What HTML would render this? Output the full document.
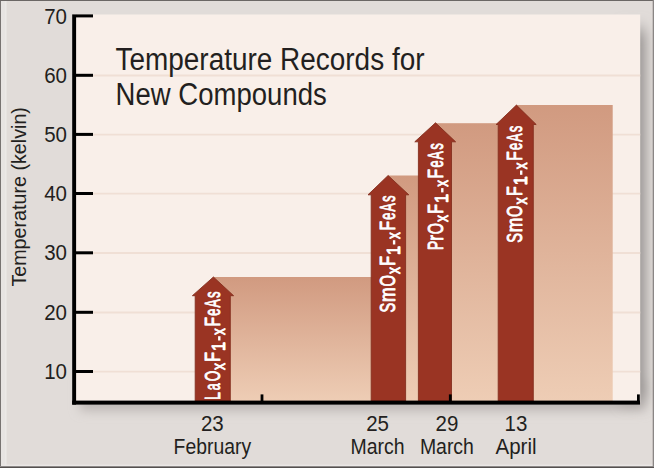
<!DOCTYPE html>
<html><head><meta charset="utf-8">
<style>
html,body{margin:0;padding:0;background:#e1dcd9;}
svg{display:block;}
text{font-family:"Liberation Sans",sans-serif;}
</style></head><body>
<svg width="654" height="468" viewBox="0 0 654 468">
<defs>
<linearGradient id="ag" x1="0" y1="0" x2="0" y2="1">
<stop offset="0" stop-color="#d19a80"/>
<stop offset="1" stop-color="#eecdb5"/>
</linearGradient>
<filter id="blur" x="-50%" y="-10%" width="200%" height="120%"><feGaussianBlur stdDeviation="5.4 8"/></filter>
<filter id="blur2" x="-10%" y="-100%" width="120%" height="300%"><feGaussianBlur stdDeviation="5.5"/></filter>
</defs>
<rect x="0" y="0" width="654" height="468" fill="#e1dcd9"/>
<rect x="80" y="380" width="565" height="30.5" fill="#bbb6b3" filter="url(#blur2)"/>
<rect x="620" y="29" width="26.3" height="372" fill="#9e9a98" filter="url(#blur)"/>
<rect x="74" y="14.5" width="566.2" height="388" fill="#f9efe9"/>

<g stroke="#f0dfd5" stroke-width="1.8">
<line x1="76" x2="640.2" y1="75.5" y2="75.5"/>
<line x1="76" x2="640.2" y1="134.6" y2="134.6"/>
<line x1="76" x2="640.2" y1="193.7" y2="193.7"/>
<line x1="76" x2="640.2" y1="253.0" y2="253.0"/>
<line x1="76" x2="640.2" y1="312.5" y2="312.5"/>
<line x1="76" x2="640.2" y1="371.7" y2="371.7"/>
</g>
<g fill="url(#ag)">
<rect x="213.3" y="277.0" width="175.2" height="124.0"/>
<rect x="388" y="175.5" width="48.0" height="225.5"/>
<rect x="435.5" y="123.2" width="81.0" height="277.8"/>
<rect x="516" y="105" width="96.7" height="296.0"/>
</g>
<g fill="#9a3423" stroke="#85301f" stroke-width="0.9" stroke-linejoin="miter">
<path d="M213.4 277L233.6 295.7H230.3V401H195.2V295.7H192.4Z"/>
<path d="M388.1 175.5L408.8 194.8H405.6V401H371.2V194.8H368Z"/>
<path d="M435.5 122.8L455.6 141.8H451.5V401H418.4V141.8H414.8Z"/>
<path d="M516.4 105.1L536.2 124.5H533.3V401H498.2V124.5H496.1Z"/>
</g>
<g fill="#000">
<rect x="72.2" y="14.4" width="3.9" height="390.2"/>
<rect x="72.2" y="400.6" width="567.8" height="4"/>
<rect x="76" y="14.4" width="17" height="3"/>
<rect x="76" y="73.8" width="17" height="3"/>
<rect x="76" y="132.9" width="17" height="3"/>
<rect x="76" y="192.0" width="17" height="3"/>
<rect x="76" y="251.3" width="17" height="3"/>
<rect x="76" y="310.8" width="17" height="3"/>
<rect x="76" y="370.0" width="17" height="3"/>
<rect x="260.6" y="394.4" width="2.8" height="7"/>
<rect x="448.9" y="394.4" width="2.8" height="7"/>
<rect x="637.0" y="394.4" width="2.8" height="7"/>
</g>
<g font-size="21.5" fill="#231f20">
<text x="44.2" y="23.5" textLength="22.8" lengthAdjust="spacingAndGlyphs">70</text>
<text x="44.2" y="82.9" textLength="22.8" lengthAdjust="spacingAndGlyphs">60</text>
<text x="44.2" y="142.0" textLength="22.8" lengthAdjust="spacingAndGlyphs">50</text>
<text x="44.2" y="201.1" textLength="22.8" lengthAdjust="spacingAndGlyphs">40</text>
<text x="44.2" y="260.4" textLength="22.8" lengthAdjust="spacingAndGlyphs">30</text>
<text x="44.2" y="319.9" textLength="22.8" lengthAdjust="spacingAndGlyphs">20</text>
<text x="44.2" y="379.1" textLength="22.8" lengthAdjust="spacingAndGlyphs">10</text>
</g>
<g font-size="31" fill="#231f20">
<text x="115.5" y="69.6" textLength="309" lengthAdjust="spacingAndGlyphs">Temperature Records for</text>
<text x="115.6" y="105.2" textLength="211.2" lengthAdjust="spacingAndGlyphs">New Compounds</text>
</g>
<text transform="translate(25.8,286.6) rotate(-90)" font-size="20.4" fill="#231f20" textLength="179.5" lengthAdjust="spacingAndGlyphs">Temperature (kelvin)</text>

<g font-size="21.5" fill="#231f20">
<text x="200.9" y="431.1" textLength="22.8" lengthAdjust="spacingAndGlyphs">23</text>
<text x="173.6" y="454" textLength="77.5" lengthAdjust="spacingAndGlyphs">February</text>
<text x="366.2" y="431.1" textLength="22.8" lengthAdjust="spacingAndGlyphs">25</text>
<text x="350.6" y="454" textLength="54" lengthAdjust="spacingAndGlyphs">March</text>
<text x="435.5" y="431.1" textLength="22.8" lengthAdjust="spacingAndGlyphs">29</text>
<text x="419.9" y="454" textLength="54" lengthAdjust="spacingAndGlyphs">March</text>
<text x="504.6" y="431.1" textLength="22.8" lengthAdjust="spacingAndGlyphs">13</text>
<text x="495.5" y="454" textLength="41" lengthAdjust="spacingAndGlyphs">April</text>
</g>
<g transform="translate(220.1,399.3) rotate(-90)" font-weight="normal" fill="#fff" stroke="#fff" stroke-width="0.9" stroke-linejoin="round">
<text x="-0.70" y="0" font-size="21.3" textLength="8.00" lengthAdjust="spacingAndGlyphs">L</text>
<text x="8.95" y="0" font-size="21.3" textLength="6.91" lengthAdjust="spacingAndGlyphs">a</text>
<text x="17.94" y="0" font-size="21.3" textLength="10.56" lengthAdjust="spacingAndGlyphs">O</text>
<text x="29.21" y="4.6" font-size="17.6" textLength="6.98" lengthAdjust="spacingAndGlyphs">x</text>
<text x="37.48" y="0" font-size="21.3" textLength="9.72" lengthAdjust="spacingAndGlyphs">F</text>
<text x="48.23" y="4.6" font-size="17.6" textLength="9.08" lengthAdjust="spacingAndGlyphs">1</text>
<rect x="49.30" y="2.60" width="7.40" height="2.2" stroke="none"/>
<rect x="58.80" y="-2.0" width="4.30" height="2.4" stroke="none"/>
<text x="64.41" y="4.6" font-size="17.6" textLength="6.77" lengthAdjust="spacingAndGlyphs">x</text>
<text x="72.81" y="0" font-size="21.3" textLength="9.47" lengthAdjust="spacingAndGlyphs">F</text>
<text x="83.64" y="0" font-size="21.3" textLength="7.14" lengthAdjust="spacingAndGlyphs">e</text>
<text x="91.75" y="0" font-size="21.3" textLength="8.23" lengthAdjust="spacingAndGlyphs">A</text>
<text x="101.64" y="0" font-size="21.3" textLength="6.25" lengthAdjust="spacingAndGlyphs">s</text>
</g>
<g transform="translate(394.9,312.2) rotate(-90)" font-weight="normal" fill="#fff" stroke="#fff" stroke-width="0.9" stroke-linejoin="round">
<text x="-0.21" y="0" font-size="21.3" textLength="9.74" lengthAdjust="spacingAndGlyphs">S</text>
<text x="10.21" y="0" font-size="21.3" textLength="14.65" lengthAdjust="spacingAndGlyphs">m</text>
<text x="25.59" y="0" font-size="21.3" textLength="11.47" lengthAdjust="spacingAndGlyphs">O</text>
<text x="38.11" y="4.6" font-size="17.6" textLength="6.98" lengthAdjust="spacingAndGlyphs">x</text>
<text x="46.38" y="0" font-size="21.3" textLength="9.72" lengthAdjust="spacingAndGlyphs">F</text>
<text x="57.13" y="4.6" font-size="17.6" textLength="9.08" lengthAdjust="spacingAndGlyphs">1</text>
<rect x="58.20" y="2.60" width="7.40" height="2.2" stroke="none"/>
<rect x="67.70" y="-2.0" width="4.30" height="2.4" stroke="none"/>
<text x="73.31" y="4.6" font-size="17.6" textLength="6.77" lengthAdjust="spacingAndGlyphs">x</text>
<text x="81.71" y="0" font-size="21.3" textLength="9.47" lengthAdjust="spacingAndGlyphs">F</text>
<text x="92.54" y="0" font-size="21.3" textLength="7.14" lengthAdjust="spacingAndGlyphs">e</text>
<text x="100.65" y="0" font-size="21.3" textLength="8.23" lengthAdjust="spacingAndGlyphs">A</text>
<text x="110.54" y="0" font-size="21.3" textLength="6.25" lengthAdjust="spacingAndGlyphs">s</text>
</g>
<g transform="translate(443.1,249.4) rotate(-90)" font-weight="normal" fill="#fff" stroke="#fff" stroke-width="0.9" stroke-linejoin="round">
<text x="-0.66" y="0" font-size="21.3" textLength="9.23" lengthAdjust="spacingAndGlyphs">P</text>
<text x="8.73" y="0" font-size="21.3" textLength="5.75" lengthAdjust="spacingAndGlyphs">r</text>
<text x="15.20" y="0" font-size="21.3" textLength="11.24" lengthAdjust="spacingAndGlyphs">O</text>
<text x="27.41" y="4.6" font-size="17.6" textLength="6.98" lengthAdjust="spacingAndGlyphs">x</text>
<text x="35.68" y="0" font-size="21.3" textLength="9.72" lengthAdjust="spacingAndGlyphs">F</text>
<text x="46.43" y="4.6" font-size="17.6" textLength="9.08" lengthAdjust="spacingAndGlyphs">1</text>
<rect x="47.50" y="2.60" width="7.40" height="2.2" stroke="none"/>
<rect x="57.00" y="-2.0" width="4.30" height="2.4" stroke="none"/>
<text x="62.61" y="4.6" font-size="17.6" textLength="6.77" lengthAdjust="spacingAndGlyphs">x</text>
<text x="71.01" y="0" font-size="21.3" textLength="9.47" lengthAdjust="spacingAndGlyphs">F</text>
<text x="81.84" y="0" font-size="21.3" textLength="7.14" lengthAdjust="spacingAndGlyphs">e</text>
<text x="89.95" y="0" font-size="21.3" textLength="8.23" lengthAdjust="spacingAndGlyphs">A</text>
<text x="99.84" y="0" font-size="21.3" textLength="6.25" lengthAdjust="spacingAndGlyphs">s</text>
</g>
<g transform="translate(522.0,242.5) rotate(-90)" font-weight="normal" fill="#fff" stroke="#fff" stroke-width="0.9" stroke-linejoin="round">
<text x="-0.21" y="0" font-size="21.3" textLength="9.74" lengthAdjust="spacingAndGlyphs">S</text>
<text x="10.21" y="0" font-size="21.3" textLength="14.65" lengthAdjust="spacingAndGlyphs">m</text>
<text x="25.59" y="0" font-size="21.3" textLength="11.47" lengthAdjust="spacingAndGlyphs">O</text>
<text x="38.11" y="4.6" font-size="17.6" textLength="6.98" lengthAdjust="spacingAndGlyphs">x</text>
<text x="46.38" y="0" font-size="21.3" textLength="9.72" lengthAdjust="spacingAndGlyphs">F</text>
<text x="57.13" y="4.6" font-size="17.6" textLength="9.08" lengthAdjust="spacingAndGlyphs">1</text>
<rect x="58.20" y="2.60" width="7.40" height="2.2" stroke="none"/>
<rect x="67.70" y="-2.0" width="4.30" height="2.4" stroke="none"/>
<text x="73.31" y="4.6" font-size="17.6" textLength="6.77" lengthAdjust="spacingAndGlyphs">x</text>
<text x="81.71" y="0" font-size="21.3" textLength="9.47" lengthAdjust="spacingAndGlyphs">F</text>
<text x="92.54" y="0" font-size="21.3" textLength="7.14" lengthAdjust="spacingAndGlyphs">e</text>
<text x="100.65" y="0" font-size="21.3" textLength="8.23" lengthAdjust="spacingAndGlyphs">A</text>
<text x="110.54" y="0" font-size="21.3" textLength="6.25" lengthAdjust="spacingAndGlyphs">s</text>
</g>
<rect x="1" y="1" width="5.4" height="465" fill="#e7e4e2"/>
<rect x="5" y="1" width="1.4" height="464" fill="#ebe8e6"/>
<rect x="1" y="464.6" width="652" height="1.4" fill="#eae7e5"/>
<rect x="0" y="0" width="654" height="0.9" fill="#5e5a59"/>
<rect x="0" y="0" width="0.9" height="468" fill="#6b6766"/>
<rect x="652.7" y="0" width="1.3" height="468" fill="#8a8685"/>
<rect x="0" y="466" width="654" height="1" fill="#8d8988"/>
<rect x="0" y="467" width="654" height="1" fill="#54504f"/>
</svg>
</body></html>
